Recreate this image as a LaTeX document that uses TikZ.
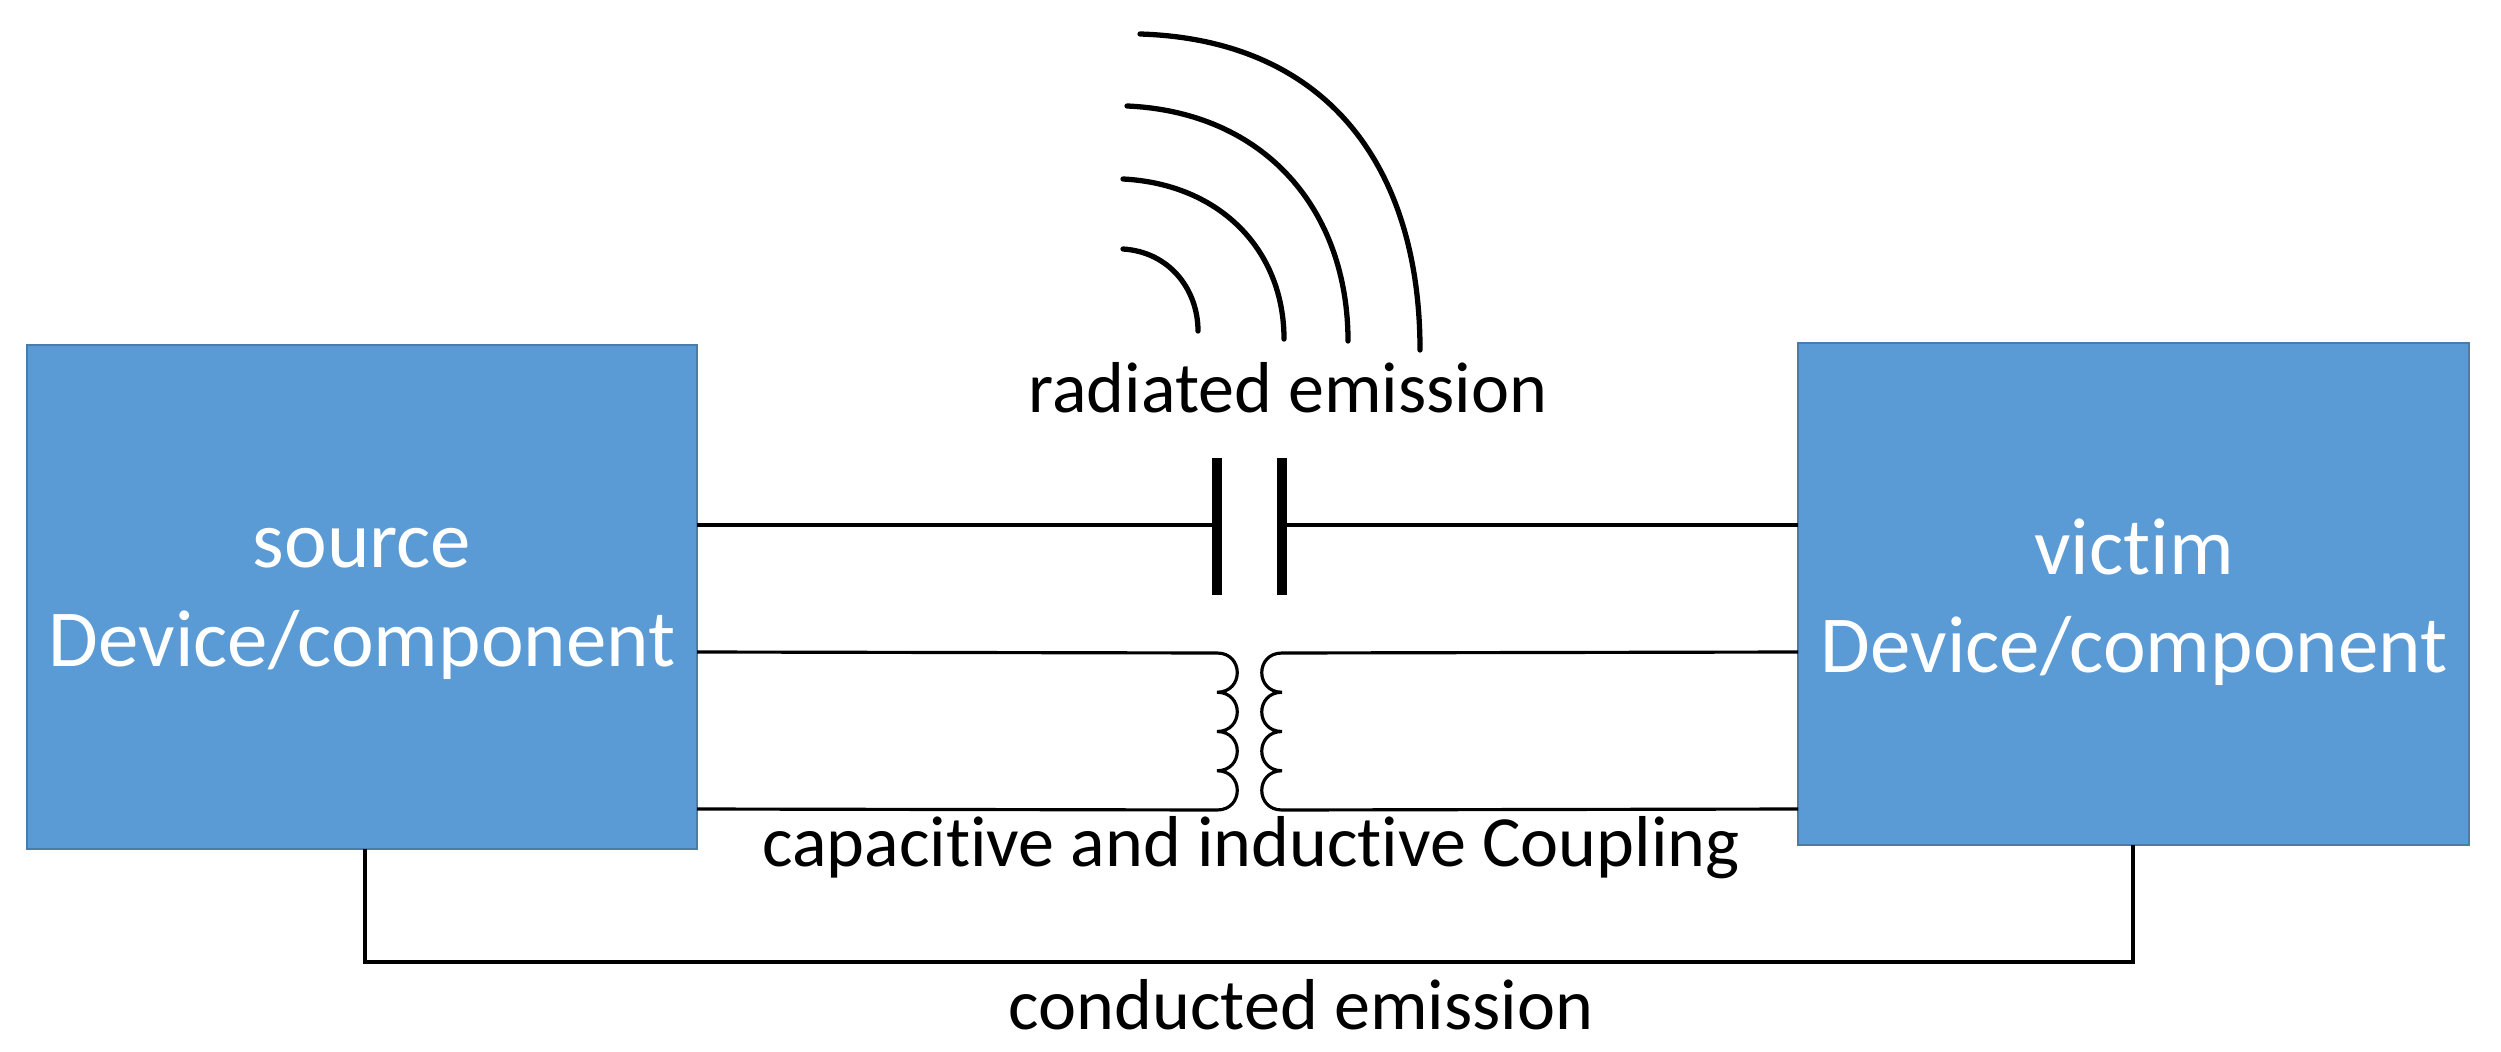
\documentclass[tikz,border=0pt]{standalone}
\usepackage{fontspec}
\setmainfont{Carlito}[Ligatures=NoCommon]
\definecolor{boxblue}{HTML}{5B9BD5}
\begin{document}
\begin{tikzpicture}[x=0.01cm,y=-0.01cm,
  dev/.style={draw=boxblue!80!black,line width=0.6pt,fill=boxblue},
  devtxt/.style={text=white,font=\fontsize{23}{29}\selectfont,align=center},
  wire/.style={line width=0.9pt},
  plate/.style={line width=2.8pt},
  wave/.style={line width=1.5pt,line cap=round},
  lbl/.style={font=\fontsize{20.5}{25}\selectfont,inner sep=0pt}]
\useasboundingbox (0,0) rectangle (2501,1052);
\path[dev] (27,345) rectangle (697,849);
\path[dev] (1798,343) rectangle (2469,845);
\node[devtxt] (srct) at (362,604) {source\\[-1pt]Device/component};
\node[devtxt] (vict) at (2134,602) {victim\\[-1pt]Device/component};
\coordinate (L1) at (697,525); \coordinate (L2) at (697,652); \coordinate (L3) at (697,809);
\coordinate (R1) at (1798,525); \coordinate (R2) at (1798,652); \coordinate (R3) at (1798,809);
\coordinate (C1) at (1217,525); \coordinate (C2) at (1282,525);
% capacitor
\draw[wire] (L1) -- (C1);
\draw[wire] (C2) -- (R1);
\draw[plate] (1217,458) -- (1217,595);
\draw[plate] (1282,458) -- (1282,595);
% inductors
\coordinate (K1) at (1217,653); \coordinate (K2) at (1282,653);
\draw[wire] (L2) -- (K1)
  .. controls +(27,0) and +(27,0) .. ++(0,39.25)
  .. controls +(27,0) and +(27,0) .. ++(0,39.25)
  .. controls +(27,0) and +(27,0) .. ++(0,39.25)
  .. controls +(27,0) and +(27,0) .. ++(0,39.25) -- (L3);
\draw[wire] (R2) -- (K2)
  .. controls +(-27,0) and +(-27,0) .. ++(0,39.25)
  .. controls +(-27,0) and +(-27,0) .. ++(0,39.25)
  .. controls +(-27,0) and +(-27,0) .. ++(0,39.25)
  .. controls +(-27,0) and +(-27,0) .. ++(0,39.25) -- (R3);
% conducted
\coordinate (S) at (365,849); \coordinate (V) at (2133,845);
\draw[wire] (S) -- (365,962) -| (V);
% waves
\draw[wave] (1123,249) .. controls (1170,252) and (1198,290) .. (1198,331);
\draw[wave] (1123,179) .. controls (1220,184) and (1284,250) .. (1284,339);
\draw[wave] (1127,106) .. controls (1265,112) and (1348,210) .. (1348,341);
\draw[wave] (1140,34) .. controls (1330,40) and (1420,170) .. (1420,350);
\node[lbl] (rad) at (1288,388) {radiated emission};
\node[lbl] (cap) at (1251,848) {capacitive and inductive Coupling};
\node[lbl] (con) at (1301,1005) {conducted emission};
\end{tikzpicture}
\end{document}
